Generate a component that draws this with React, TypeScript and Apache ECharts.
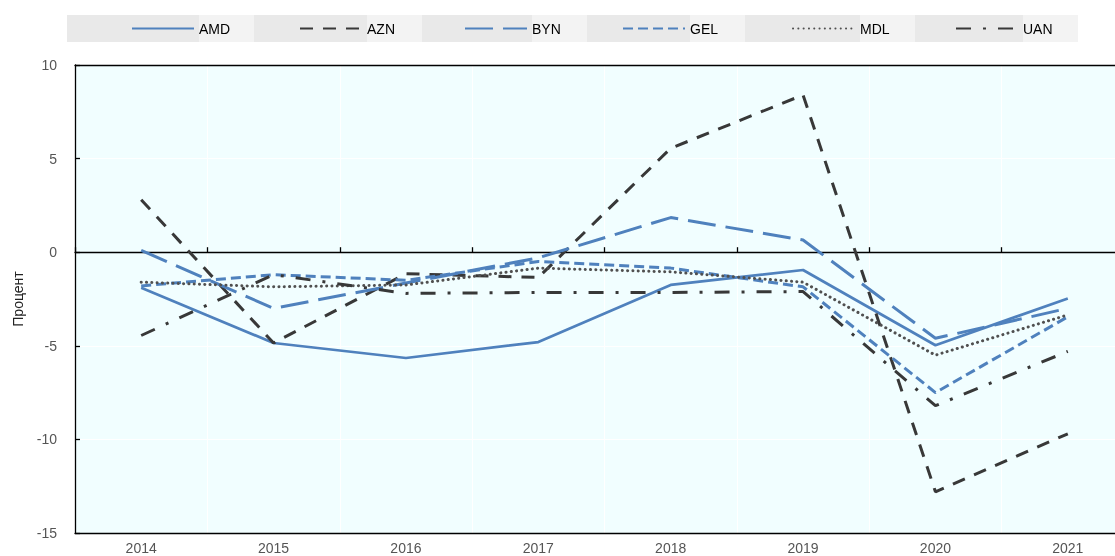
import React, { useEffect, useRef } from "react";
import * as echarts from "echarts";

const years = ["2014", "2015", "2016", "2017", "2018", "2019", "2020", "2021"];
const amd = [-1.9, -4.85, -5.65, -4.8, -1.75, -0.95, -4.97, -2.47];
const azn = [2.8, -4.85, -1.15, -1.35, 5.55, 8.4, -12.8, -9.7];
const byn = [0.1, -3.0, -1.65, -0.3, 1.85, 0.65, -4.6, -3.0];
const gel = [-1.8, -1.2, -1.5, -0.5, -0.85, -1.85, -7.5, -3.45];
const mdl = [-1.6, -1.85, -1.75, -0.85, -1.05, -1.6, -5.5, -3.35];
const uan = [-4.45, -1.2, -2.2, -2.15, -2.15, -2.1, -8.2, -5.3];
const seriesNames = ["AMD", "AZN", "BYN", "GEL", "MDL", "UAN"];
const yTicks = { min: -15, max: 10, interval: 5 };

const BLUE = "#4f81bd";
const DARK = "#383838";
const FONT = "'Liberation Sans Narrow', 'Arial Narrow', 'Liberation Sans', Arial, sans-serif";
const legendLefts = [131, 299, 464, 622, 792, 955];

export default function App() {
  const ref = useRef<HTMLDivElement>(null);
  useEffect(() => {
    if (!ref.current) return;
    const chart = echarts.init(ref.current, null, { renderer: "svg" });
    const mk = (name: string, data: number[], color: string, type: any, width: number, cap: any = "butt") => ({
      name,
      type: "line",
      data,
      showSymbol: false,
      symbol: "none",
      lineStyle: { color, type, width, cap },
      itemStyle: { color },
      xAxisIndex: 0,
      yAxisIndex: 0,
    });
    chart.setOption({
      animation: false,
      graphic: [
        {
          type: "rect",
          z: -10,
          shape: { x: 67, y: 15, width: 1011, height: 27 },
          style: { fill: "#e9e9e9" },
        },
      ],
      legend: seriesNames.map((n, i) => ({
        left: legendLefts[i],
        top: 15,
        padding: 0,
        itemWidth: 62,
        itemHeight: 12,
        itemStyle: { color: "transparent", borderWidth: 0, opacity: 0 },
        textStyle: {
          fontFamily: FONT,
          fontSize: 14,
          color: "#000",
          width: 55,
          height: 27,
          lineHeight: 27,
          backgroundColor: "#f3f3f3",
        },
        data: [n],
      })),
      grid: {
        left: 75,
        top: 65,
        width: 1059,
        height: 468,
        show: true,
        backgroundColor: "#f1feff",
        borderWidth: 0,
        containLabel: false,
        outerBoundsMode: "none",
      },
      xAxis: [
        {
          type: "category",
          data: years,
          boundaryGap: true,
          position: "bottom",
          axisLine: { onZero: false, lineStyle: { color: "#000", width: 1.3 } },
          axisTick: { show: false },
          axisLabel: { color: "#555", fontSize: 14, fontFamily: FONT, margin: 8 },
          splitLine: { show: true, lineStyle: { color: "#ffffff", width: 1 } },
        },
        {
          type: "category",
          data: years,
          boundaryGap: true,
          position: "bottom",
          axisLine: { onZero: true, lineStyle: { color: "#000", width: 1.3 } },
          axisTick: { show: true, inside: true, length: 5, lineStyle: { color: "#000", width: 1.3 } },
          axisLabel: { show: false },
          splitLine: { show: false },
        },
        {
          type: "category",
          data: years,
          boundaryGap: true,
          position: "top",
          axisLine: { onZero: false, lineStyle: { color: "#000", width: 1.3 } },
          axisTick: { show: false },
          axisLabel: { show: false },
          splitLine: { show: false },
        },
      ],
      yAxis: {
        type: "value",
        min: yTicks.min,
        max: yTicks.max,
        interval: yTicks.interval,
        name: "Процент",
        nameLocation: "middle",
        nameGap: 50,
        nameRotate: 90,
        nameTextStyle: { color: "#222", fontSize: 14, fontFamily: FONT },
        axisLine: { show: true, lineStyle: { color: "#000", width: 1.3 } },
        axisTick: { show: true, inside: true, length: 5, lineStyle: { color: "#000", width: 1.3 } },
        axisLabel: { color: "#555", fontSize: 14, fontFamily: FONT, margin: 18 },
        splitLine: { show: true, lineStyle: { color: "#ffffff", width: 1 } },
      },
      series: [
        mk("AMD", amd, BLUE, "solid", 2.7),
        mk("AZN", azn, DARK, [13, 10], 3),
        mk("BYN", byn, BLUE, [28, 10], 3),
        mk("GEL", gel, BLUE, [10, 5], 3),
        mk("MDL", mdl, "#505050", [0.1, 5.2], 3, "round"),
        mk("UAN", uan, DARK, [15, 12, 3, 12], 3),
      ],
    });
    return () => chart.dispose();
  }, []);
  return (
    <div
      ref={ref}
      style={{ position: "fixed", left: 0, top: 0, width: 1115, height: 556 }}
    />
  );
}
